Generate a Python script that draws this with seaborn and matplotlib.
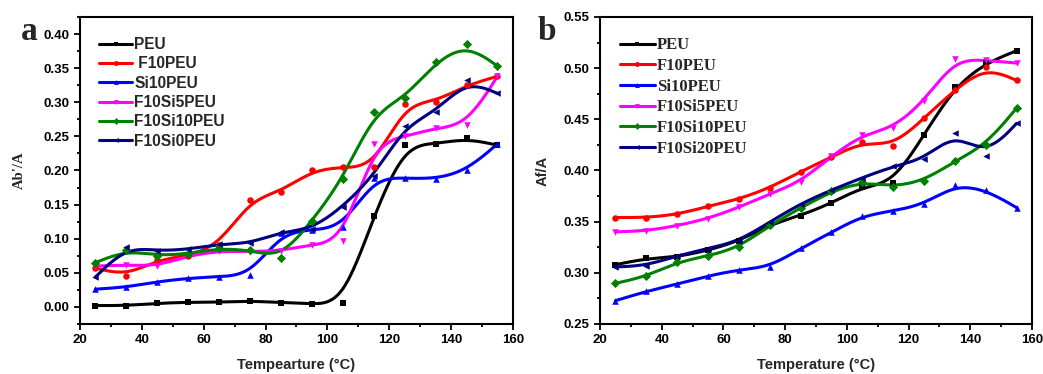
import numpy as np
import pandas as pd
import matplotlib
matplotlib.use("Agg")
import matplotlib.pyplot as plt
from matplotlib.lines import Line2D
from matplotlib.ticker import MultipleLocator
import seaborn as sns

temps = [25, 35, 45, 55, 65, 75, 85, 95, 105, 115, 125, 135, 145, 155]

# Panel a: Ab'/A
a_names = ["PEU", " F10PEU", "Si10PEU", "F10Si5PEU", "F10Si10PEU", "F10Si0PEU"]
a_peu = [0.002, 0.002, 0.0054, 0.0069, 0.0069, 0.0088, 0.0064, 0.0044, 0.0054, 0.134, 0.237, 0.239, 0.247, 0.237]
a_f10 = [0.057, 0.046, 0.069, 0.075, 0.091, 0.157, 0.169, 0.200, 0.205, 0.205, 0.297, 0.301, 0.325, 0.338]
a_si10 = [0.026, 0.029, 0.037, 0.042, 0.0445, 0.047, 0.108, 0.113, 0.117, 0.189, 0.189, 0.1875, 0.200, 0.239]
a_f10si5 = [0.060, 0.0615, 0.060, 0.075, 0.082, 0.081, 0.0825, 0.091, 0.097, 0.239, 0.250, 0.262, 0.267, 0.338]
a_f10si10 = [0.065, 0.083, 0.075, 0.078, 0.086, 0.083, 0.072, 0.126, 0.1875, 0.285, 0.306, 0.359, 0.385, 0.353]
a_f10si0 = [0.044, 0.088, 0.082, 0.0845, 0.092, 0.093, 0.110, 0.114, 0.147, 0.192, 0.265, 0.286, 0.332, 0.313]

# Panel b: Af/A
b_names = ["PEU", "F10PEU", "Si10PEU", "F10Si5PEU", "F10Si10PEU", "F10Si20PEU"]
b_peu = [0.308, 0.314, 0.3155, 0.322, 0.331, 0.347, 0.356, 0.368, 0.384, 0.388, 0.435, 0.482, 0.505, 0.517]
b_f10 = [0.354, 0.354, 0.357, 0.365, 0.372, 0.383, 0.399, 0.413, 0.428, 0.424, 0.451, 0.479, 0.501, 0.488]
b_si10 = [0.2728, 0.2819, 0.289, 0.297, 0.303, 0.3057, 0.3239, 0.3395, 0.3558, 0.3604, 0.3669, 0.386, 0.3812, 0.3637]
b_f10si5 = [0.340, 0.341, 0.346, 0.353, 0.364, 0.377, 0.389, 0.414, 0.435, 0.4415, 0.4675, 0.509, 0.5076, 0.505]
b_f10si10 = [0.2897, 0.2965, 0.3106, 0.3164, 0.3249, 0.3464, 0.3634, 0.3796, 0.389, 0.384, 0.390, 0.409, 0.425, 0.461]
b_f10si20 = [0.3057, 0.307, 0.3167, 0.3236, 0.331, 0.3497, 0.3676, 0.381, 0.393, 0.404, 0.411, 0.437, 0.4145, 0.446]

colors = ["#000000", "#ff0000", "#0000ff", "#ff00ff", "#008000", "#000080"]
markers = ["s", "o", "^", "v", "D", "<"]


def bspline(x, y, n=25):
    """Uniform cubic B-spline (Origin style) with clamped ends."""
    P = np.column_stack([x, y]).astype(float)
    P = np.vstack([P[0], P[0], P, P[-1], P[-1]])
    M = np.array([[-1, 3, -3, 1], [3, -6, 3, 0], [-3, 0, 3, 0], [1, 4, 1, 0]]) / 6.0
    t = np.linspace(0, 1, n)
    T = np.column_stack([t ** 3, t ** 2, t, np.ones_like(t)])
    pts = []
    for i in range(len(P) - 3):
        seg = T @ M @ P[i:i + 4]
        pts.append(seg if i == 0 else seg[1:])
    pts = np.vstack(pts)
    return pts[:, 0], pts[:, 1]


sns.set_theme(style="ticks")
plt.rcParams["font.family"] = ["Liberation Sans", "DejaVu Sans"]

fig = plt.figure(figsize=(10.43, 3.74), dpi=100)
axA = fig.add_axes([0.0767, 0.1337, 0.4151, 0.8209])
axB = fig.add_axes([0.5753, 0.1337, 0.4142, 0.8209])


def draw(ax, names, series, legend_family, lsize):
    handles = []
    for name, vals, c, m in zip(names, series, colors, markers):
        sx, sy = bspline(temps, vals)
        sns.lineplot(x=sx, y=sy, ax=ax, color=c, linewidth=2.2, sort=False,
                     estimator=None, legend=False)
        sns.scatterplot(x=temps, y=vals, ax=ax, color=c, marker=m, s=22,
                        linewidth=0, legend=False, zorder=3)
        handles.append(Line2D([0], [0], color=c, lw=2.2, marker=m, markersize=3.5,
                              markeredgewidth=0, label=name))
    ax.legend(handles=handles, loc="upper left", frameon=False,
              handlelength=2.1, handletextpad=0.15, labelspacing=0.28,
              borderaxespad=0.0, bbox_to_anchor=(0.03, 0.955),
              prop={"family": legend_family, "weight": "bold", "size": lsize})
    ax.set_xlim(20, 160)
    ax.xaxis.set_minor_locator(MultipleLocator(10))
    for sp in ax.spines.values():
        sp.set_visible(True)
        sp.set_linewidth(1.5)
        sp.set_color("black")
    ax.tick_params(which="both", direction="out", top=False, right=False,
                   width=1.3, colors="black")
    ax.tick_params(which="major", length=4, labelsize=9.5)
    ax.tick_params(which="minor", length=2.5)
    ax.set_xticks(np.arange(20, 161, 20))
    ax.set_xticklabels([str(v) for v in range(20, 161, 20)], fontweight="bold")


draw(axA, a_names, [a_peu, a_f10, a_si10, a_f10si5, a_f10si10, a_f10si0], ["Liberation Sans"], 11.2)
axA.set_ylim(-0.025, 0.425)
axA.set_yticks(np.arange(0, 0.401, 0.05))
axA.set_yticklabels([f"{v:.2f}" for v in np.arange(0, 0.401, 0.05)], fontweight="bold")
axA.yaxis.set_minor_locator(MultipleLocator(0.025))
axA.set_xlabel("Tempearture (°C)", fontweight="bold", fontsize=10.5, labelpad=8)
axA.set_ylabel("Ab'/A", fontweight="bold", fontsize=10.5, family="Liberation Serif", labelpad=13)

draw(axB, b_names, [b_peu, b_f10, b_si10, b_f10si5, b_f10si10, b_f10si20], ["Liberation Serif"], 12)
axB.set_ylim(0.25, 0.55)
axB.set_yticks(np.arange(0.25, 0.551, 0.05))
axB.set_yticklabels([f"{v:.2f}" for v in np.arange(0.25, 0.551, 0.05)], fontweight="bold")
axB.yaxis.set_minor_locator(MultipleLocator(0.025))
axB.set_xlabel("Temperature (°C)", fontweight="bold", fontsize=10.5, labelpad=8)
axB.set_ylabel("Af/A", fontweight="bold", fontsize=10.5, labelpad=10)

fig.text(0.020, 0.893, "a", fontsize=24, fontweight="bold", family="Liberation Serif")
fig.text(0.515, 0.893, "b", fontsize=24, fontweight="bold", family="Liberation Serif")

fig.savefig("out.png", dpi=100)
